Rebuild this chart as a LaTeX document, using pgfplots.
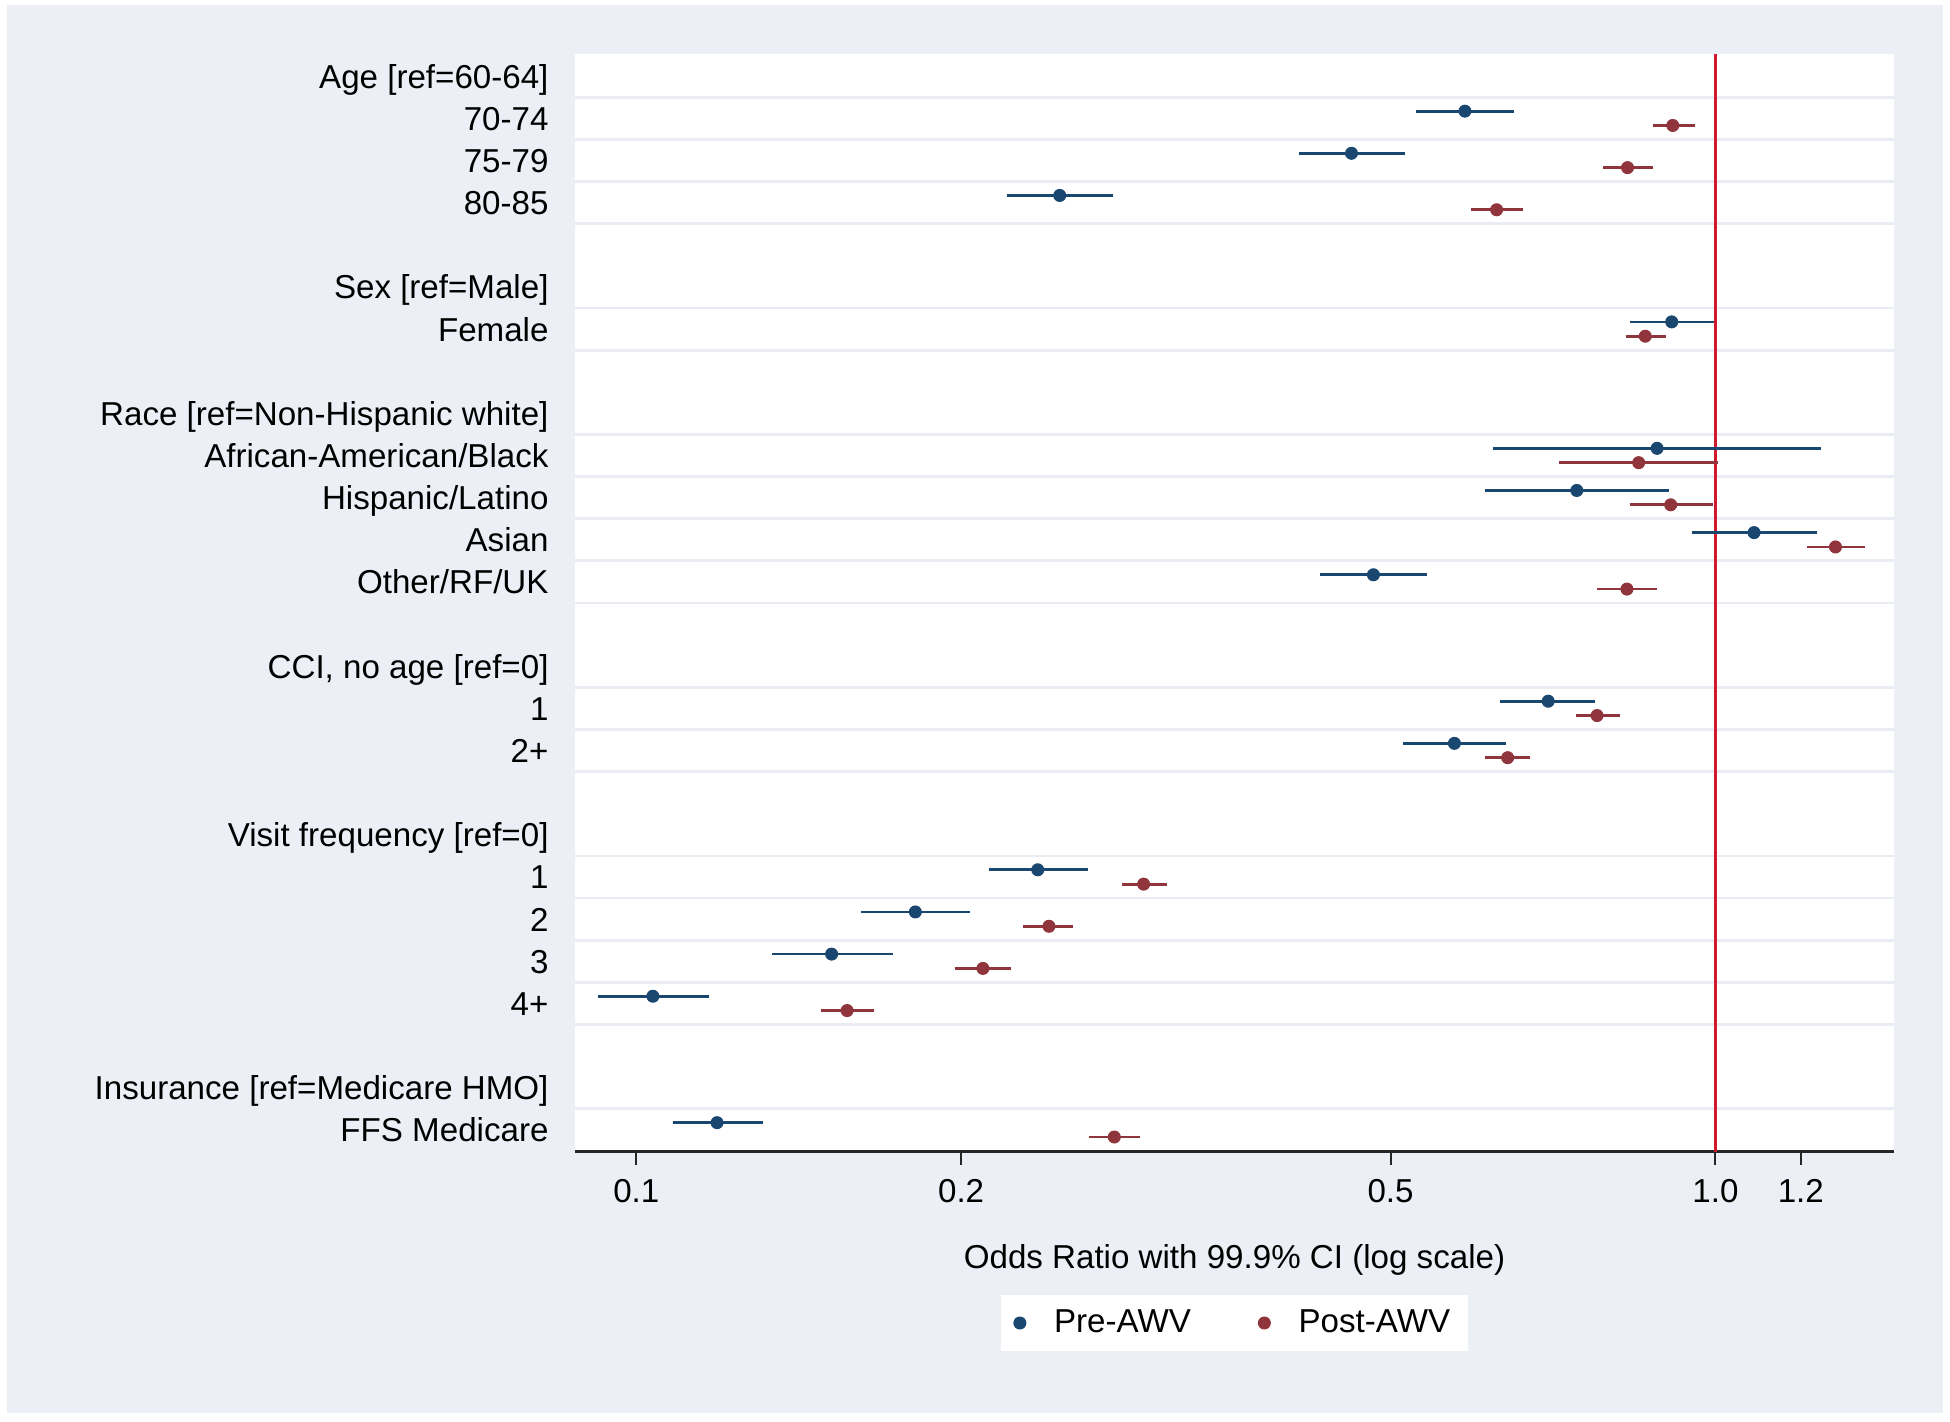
\documentclass[border=0pt]{standalone}
\usepackage{fontspec}
\setmainfont{Liberation Sans}
\usepackage{pgfplots}
\pgfplotsset{compat=1.18}
\usepackage{pgfplotstable}

\definecolor{bgc}{RGB}{236,240,246}
\definecolor{gridc}{RGB}{233,237,243}
\definecolor{preblue}{RGB}{26,71,111}
\definecolor{postred}{RGB}{144,53,59}
\definecolor{refred}{RGB}{210,24,44}

% Pre-AWV: y (row - 0.17), odds ratio
\pgfplotstableread{
y or
0.83 0.586
1.83 0.460
2.83 0.2468
5.83 0.911
8.83 0.883
9.83 0.744
10.83 1.086
11.83 0.482
14.83 0.700
15.83 0.573
18.83 0.2355
19.83 0.1814
20.83 0.1517
21.83 0.1036
24.83 0.1188
}\pre

% Post-AWV: y (row + 0.17), odds ratio
\pgfplotstableread{
y or
1.17 0.913
2.17 0.829
3.17 0.627
6.17 0.861
9.17 0.849
10.17 0.909
11.17 1.292
12.17 0.828
15.17 0.777
16.17 0.642
19.17 0.2952
20.17 0.2412
21.17 0.2095
22.17 0.1568
25.17 0.2773
}\post

\newcommand{\fs}{\fontsize{13.3}{16}\selectfont}

\begin{document}
\begin{tikzpicture}
\useasboundingbox (0,0) rectangle (780bp,568.8bp);
\fill[white] (0,0) rectangle (780bp,568.8bp);
\fill[bgc] (2.8bp,3.7bp) rectangle (777.2bp,566.8bp);
\begin{axis}[
  at={(230bp,108.1bp)}, anchor=south west,
  scale only axis, width=527.6bp, height=439bp,
  xmode=log, xmin=0.08773, xmax=1.4639,
  ymin=-0.52, ymax=25.52, y dir=reverse,
  axis background/.style={fill=white},
  axis x line*=bottom, axis y line*=left,
  axis line style={-},
  y axis line style={draw=none},
  x axis line style={line width=1.2bp, draw=black!85},
  xtick={0.1,0.2,0.5,1,1.2},
  xticklabels={0.1,0.2,0.5,1.0,1.2},
  xminorticks=false, yminorticks=false,
  tick align=outside,
  xtick style={line width=0.8bp, draw=black!85},
  major tick length=5.2bp,
  ytick={0,...,25},
  ytick style={draw=none},
  yticklabels={{Age [ref=60-64]},{70-74},{75-79},{80-85},{},{Sex [ref=Male]},{Female},{},{Race [ref=Non-Hispanic white]},{African-American/Black},{Hispanic/Latino},{Asian},{Other/RF/UK},{},{CCI, no age [ref=0]},{1},{2+},{},{Visit frequency [ref=0]},{1},{2},{3},{4+},{},{Insurance [ref=Medicare HMO]},{FFS Medicare}},
  yticklabel style={font=\fs, anchor=base east, inner sep=0pt, xshift=-5.2bp, yshift=-4.8bp},
  xticklabel style={font=\fs, anchor=base, inner sep=0pt, yshift=-15bp},
  extra y ticks={0.5,1.5,2.5,3.5,5.5,6.5,8.5,9.5,10.5,11.5,12.5,14.5,15.5,16.5,18.5,19.5,20.5,21.5,22.5,24.5},
  extra y tick labels={},
  extra y tick style={grid=major, major grid style={draw=gridc, line width=1.1bp}, ytick style={draw=none}},
  xlabel={Odds Ratio with 99.9\% CI (log scale)},
  xlabel style={at={(axis description cs:0.5,0)}, anchor=center, yshift=-43.4bp, font=\fs},
  legend style={at={(axis description cs:0.5,0)}, anchor=center, yshift=-68.5bp,
    draw=none, fill=white, legend columns=2, inner xsep=5bp, inner ysep=4bp,
    font=\fs, /tikz/every even column/.append style={column sep=25bp},
    /tikz/every odd column/.append style={column sep=9.3bp}},
  clip=false,
]
% reference line
\addplot[refred, line width=1bp, forget plot] coordinates {(1,-0.52) (1,25.52)};

% Pre-AWV confidence intervals
\addplot[preblue, line width=1.1bp, unbounded coords=jump, forget plot] table {
x y
0.528 0.83
0.650 0.83
nan nan
0.411 1.83
0.516 1.83
nan nan
0.2205 2.83
0.2763 2.83
nan nan
0.834 5.83
0.998 5.83
nan nan
0.622 8.83
1.254 8.83
nan nan
0.611 9.83
0.905 9.83
nan nan
0.951 10.83
1.242 10.83
nan nan
0.430 11.83
0.541 11.83
nan nan
0.632 14.83
0.774 14.83
nan nan
0.513 15.83
0.639 15.83
nan nan
0.2121 18.83
0.2620 18.83
nan nan
0.1615 19.83
0.2037 19.83
nan nan
0.1336 20.83
0.1728 20.83
nan nan
0.0921 21.83
0.1167 21.83
nan nan
0.1081 24.83
0.1310 24.83
};

% Post-AWV confidence intervals
\addplot[postred, line width=1.1bp, unbounded coords=jump, forget plot] table {
x y
0.875 1.17
0.958 1.17
nan nan
0.787 2.17
0.875 2.17
nan nan
0.594 3.17
0.663 3.17
nan nan
0.826 6.17
0.900 6.17
nan nan
0.717 9.17
1.006 9.17
nan nan
0.833 10.17
0.994 10.17
nan nan
1.216 11.17
1.375 11.17
nan nan
0.777 12.17
0.883 12.17
nan nan
0.743 15.17
0.815 15.17
nan nan
0.612 16.17
0.674 16.17
nan nan
0.2819 19.17
0.3101 19.17
nan nan
0.2284 20.17
0.2541 20.17
nan nan
0.1972 21.17
0.2226 21.17
nan nan
0.1482 22.17
0.1662 22.17
nan nan
0.2627 25.17
0.2927 25.17
};

\addplot[only marks, mark=*, mark size=2.4bp, color=preblue] table[x=or, y=y] {\pre};
\addlegendentry{Pre-AWV}
\addplot[only marks, mark=*, mark size=2.4bp, color=postred] table[x=or, y=y] {\post};
\addlegendentry{Post-AWV}
\end{axis}
\end{tikzpicture}
\end{document}
